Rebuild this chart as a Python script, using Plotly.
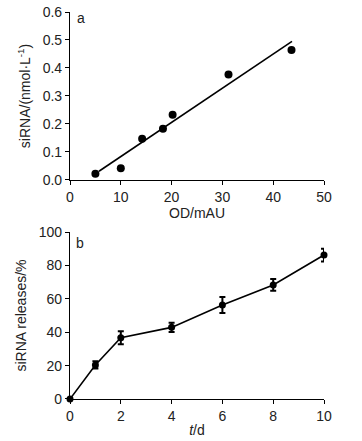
import plotly.graph_objects as go
from plotly.subplots import make_subplots

# Panel a: calibration
od_x = [5.0, 10.0, 14.2, 18.3, 20.2, 31.2, 43.6]
sirna_y = [0.022, 0.042, 0.147, 0.183, 0.233, 0.377, 0.464]
fit_x = [5.7, 43.7]
fit_y = [0.031, 0.495]

# Panel b: release
t_days = [0, 1, 2, 4, 6, 8, 10]
release = [0, 20.4, 36.7, 42.9, 56.3, 68.3, 86.2]
release_err = [0, 2.2, 3.9, 2.8, 4.8, 3.5, 3.8]

fig = make_subplots(rows=2, cols=1)
fig.add_trace(go.Scatter(x=fit_x, y=fit_y, mode="lines",
                         line=dict(color="black", width=1.6), showlegend=False), row=1, col=1)
fig.add_trace(go.Scatter(x=od_x, y=sirna_y, mode="markers",
                         marker=dict(color="black", size=8), showlegend=False), row=1, col=1)
fig.add_trace(go.Scatter(x=t_days, y=release, mode="lines+markers",
                         line=dict(color="black", width=1.6),
                         marker=dict(color="black", size=7),
                         error_y=dict(type="data", array=release_err, color="black",
                                      thickness=2, width=3),
                         showlegend=False), row=2, col=1)

font = "Liberation Sans, Arial, sans-serif"
ax = dict(showline=True, linecolor="black", linewidth=1.2, ticks="outside",
          ticklen=4, tickcolor="black", tickwidth=1.2, showgrid=False, zeroline=False,
          tickfont=dict(family=font, size=14, color="#222"), mirror=False, automargin=False,
          ticklabeloverflow="allow")

fig.update_layout(
    width=362, height=441, plot_bgcolor="white", paper_bgcolor="white",
    margin=dict(l=70, r=38, t=12, b=42),
    font=dict(family=font, size=14, color="#222"),
    xaxis=dict(ax, domain=[0, 1], range=[0, 50], tickvals=[0, 10, 20, 30, 40, 50],
               title=dict(text="OD/mAU", standoff=2, font=dict(size=14))),
    yaxis=dict(ax, domain=[0.566, 1], range=[0, 0.6],
               tickvals=[0, 0.1, 0.2, 0.3, 0.4, 0.5, 0.6], tickformat=".1f",
               title=dict(text="siRNA/(nmol·L<sup>-1</sup>)", standoff=8, font=dict(size=14))),
    xaxis2=dict(ax, domain=[0, 1], range=[0, 10], tickvals=[0, 2, 4, 6, 8, 10],
                title=dict(text="<i>t</i>/d", standoff=2, font=dict(size=14))),
    yaxis2=dict(ax, domain=[0, 0.4315], range=[0, 100], tickvals=[0, 20, 40, 60, 80, 100],
                title=dict(text="siRNA releases/%", standoff=8, font=dict(size=14))),
    annotations=[
        dict(text="a", x=0.043, y=0.9845, xref="paper", yref="paper", showarrow=False,
             xanchor="center", yanchor="middle", font=dict(size=14, family=font, color="#222")),
        dict(text="b", x=0.039, y=0.404, xref="paper", yref="paper", showarrow=False,
             xanchor="center", yanchor="middle", font=dict(size=14, family=font, color="#222")),
    ],
)
fig.update_traces(cliponaxis=False)
fig.write_html("out.html", config={"displayModeBar": False},
               post_script="document.body.style.margin='0';")
